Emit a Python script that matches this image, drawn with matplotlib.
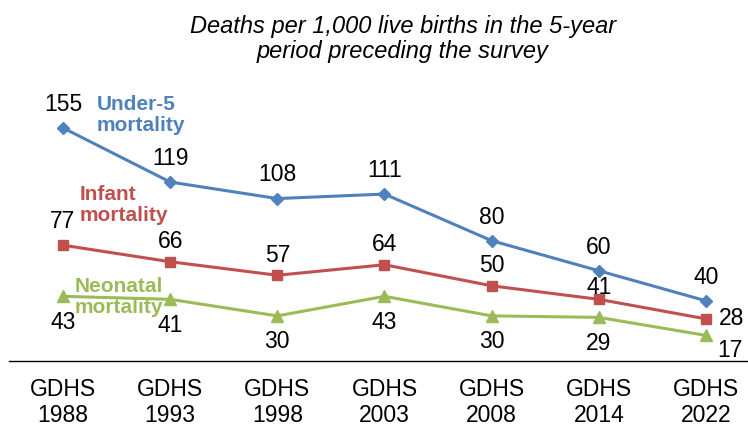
import numpy as np
import matplotlib
matplotlib.use('Agg')
from matplotlib import pyplot as plt

plt.rcParams['font.family'] = ['Liberation Sans', 'DejaVu Sans']

# survey rounds and rates (deaths per 1,000 live births)
surveys = ['GDHS\n1988', 'GDHS\n1993', 'GDHS\n1998', 'GDHS\n2003',
           'GDHS\n2008', 'GDHS\n2014', 'GDHS\n2022']
under5 = [155, 119, 108, 111, 80, 60, 40]
infant = [77, 66, 57, 64, 50, 41, 28]
neonatal = [43, 41, 30, 43, 30, 29, 17]

BLUE = '#4F81BD'
RED = '#C0504D'
GREEN = '#9BBB59'

W, H = 748, 426
fig = plt.figure(figsize=(W / 100, H / 100), dpi=100)

# axes placed in pixel terms: x bins from 9.4 to 759.6 px, y=0 at 361 px
x0, x1 = 9.4, 759.6
ybot = 361.0
ppu = 1.504  # pixels per unit
ymax = 200
ytop = ybot - ymax * ppu
ax = fig.add_axes([x0 / W, (H - ybot) / H, (x1 - x0) / W, (ybot - ytop) / H])
ax.set_xlim(-0.5, 6.5)
ax.set_ylim(0, ymax)

x = np.arange(len(surveys))
ax.plot(x, under5, color=BLUE, lw=2.2, marker='D', ms=6, zorder=3)
ax.plot(x, infant, color=RED, lw=2.2, marker='s', ms=7.5, zorder=3)
ax.plot(x, neonatal, color=GREEN, lw=2.2, marker='^', ms=8, zorder=3)

fs = 16.5
def label(i, v, dx, dy, ha='center'):
    ax.annotate(str(v), (i, v), xytext=(dx, dy), textcoords='offset points',
                ha=ha, va='center', fontsize=fs)

for i, v in enumerate(under5):
    label(i, v, 0, 17)
for i, v in enumerate(infant):
    if i == 6:
        label(i, v, 9, 0, 'left')
    elif i == 5:
        label(i, v, 0, 8.5)
    elif i == 0:
        label(i, v, 0, 17)
    else:
        label(i, v, 0, 14.5)
for i, v in enumerate(neonatal):
    if i == 6:
        label(i, v, 8, -11, 'left')
    else:
        label(i, v, 0, -18.5)

# series names
fig.text(97 / W, 1 - 115 / H, 'Under-5\nmortality', color=BLUE, fontsize=15,
         fontweight='bold', ha='left', va='center', linespacing=1.15)
fig.text(80 / W, 1 - 205 / H, 'Infant\nmortality', color=RED, fontsize=15,
         fontweight='bold', ha='left', va='center', linespacing=1.15)
fig.text(119 / W, 1 - 297 / H, 'Neonatal\nmortality', color=GREEN, fontsize=15,
         fontweight='bold', ha='center', va='center', linespacing=1.15)

fig.text(403 / W, 1 - 39 / H,
         'Deaths per 1,000 live births in the 5-year\nperiod preceding the survey',
         fontsize=17, style='italic', ha='center', va='center', linespacing=1.15)

ax.set_xticks(x)
ax.set_xticklabels(surveys, fontsize=fs, linespacing=1.2)
ax.tick_params(axis='x', length=0, pad=12)
ax.set_yticks([])
for s in ['top', 'right', 'left']:
    ax.spines[s].set_visible(False)
ax.spines['bottom'].set_linewidth(1.0)
ax.patch.set_alpha(0)

fig.savefig('out.png', dpi=100)
